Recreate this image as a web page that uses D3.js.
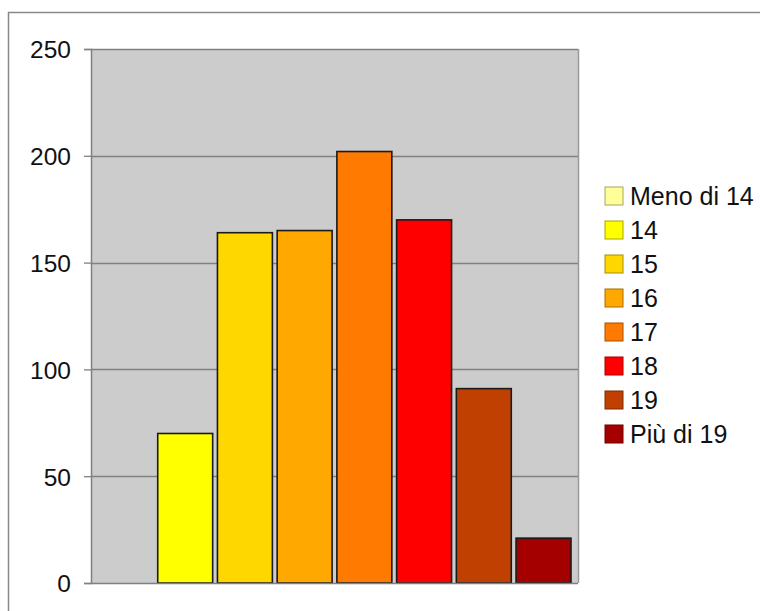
<!DOCTYPE html>
<html><head><meta charset="utf-8">
<script src="https://cdn.jsdelivr.net/npm/d3@7"></script>
<style>html,body{margin:0;padding:0;background:#fff;overflow:hidden}</style>
</head><body>
<svg id="c" width="760" height="611"></svg>
<script>
const categories = ["Meno di 14","14","15","16","17","18","19","Più di 19"];
const values = [0,70,164,165,202,170,91,21];
const colors = ["#FFFF99","#FFFF00","#FFD700","#FFA800","#FF7A00","#FF0000","#BF4000","#A50000"];
const yTicks = [0,50,100,150,200,250];

const svg = d3.select("#c");
const font = "Liberation Sans, Arial, sans-serif";
// outer frame
svg.append("rect").attr("x",8.5).attr("y",12.5).attr("width",760).attr("height",620)
  .attr("fill","#fff").attr("stroke","#888").attr("stroke-width",1.5);

const L=91, R=578, T=49, B=583;
const y = d3.scaleLinear().domain([0,250]).range([B,T]);
const x = d3.scaleBand().domain(categories).range([98,571]).paddingInner(0.08).paddingOuter(0);

svg.append("rect").attr("x",L).attr("y",T).attr("width",R-L).attr("height",B-T).attr("fill","#CCCCCC");

// gridlines
svg.append("g").selectAll("line").data(yTicks.filter(d=>d>0)).join("line")
  .attr("x1",L).attr("x2",R).attr("y1",d=>Math.round(y(d))+0.5).attr("y2",d=>Math.round(y(d))+0.5)
  .attr("stroke","#808080").attr("stroke-width",1.3);

// plot border right
svg.append("line").attr("x1",R+0.5).attr("x2",R+0.5).attr("y1",T).attr("y2",B).attr("stroke","#999").attr("stroke-width",1.5);

// bars
svg.append("g").selectAll("rect").data(values).join("rect")
  .attr("x",(d,i)=>x(categories[i]))
  .attr("width",x.bandwidth())
  .attr("y",d=>y(d))
  .attr("height",d=>B-y(d))
  .attr("fill",(d,i)=>colors[i])
  .attr("stroke","#1a1a1a").attr("stroke-width",d=>d>0?1.6:0);

// y axis
const yAxis = d3.axisLeft(y).tickValues(yTicks).tickSize(7).tickPadding(13).tickFormat(d3.format("d"));
const ga = svg.append("g").attr("transform",`translate(${L},0)`).call(yAxis);
ga.select(".domain").attr("stroke","#808080").attr("stroke-width",1.5);
ga.selectAll(".tick line").attr("stroke","#808080").attr("stroke-width",1.3);
ga.selectAll(".tick text").attr("font-family",font).attr("font-size",24.5).attr("fill","#111").attr("dy","0.36em");
// bottom axis line
svg.append("line").attr("x1",L).attr("x2",R).attr("y1",B+0.5).attr("y2",B+0.5).attr("stroke","#808080").attr("stroke-width",1.5);

// legend
const lg = svg.append("g").selectAll("g").data(categories).join("g")
  .attr("transform",(d,i)=>`translate(605,${187+i*34})`);
lg.append("rect").attr("width",18).attr("height",18).attr("fill",(d,i)=>colors[i])
  .attr("stroke",(d,i)=>d3.color(colors[i]).darker(1.2)).attr("stroke-width",1);
lg.append("text").attr("x",25).attr("y",9).attr("dy","0.36em").attr("font-family",font).attr("font-size",25)
  .attr("fill","#111").text(d=>d);
</script>
</body></html>
